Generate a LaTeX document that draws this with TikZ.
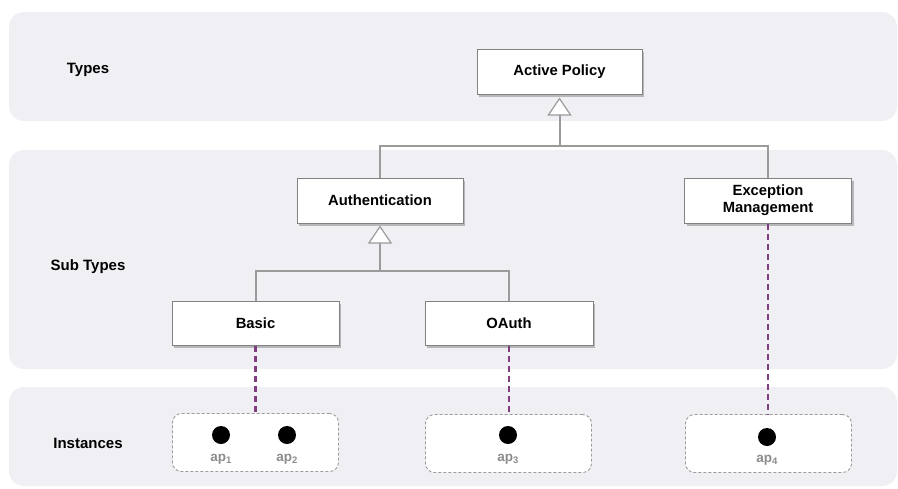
\documentclass[tikz,border=0pt]{standalone}
\usepackage{fontspec}
\setmainfont{Liberation Sans}
\usetikzlibrary{arrows.meta,shadows}
\definecolor{bandc}{RGB}{240,239,244}
\definecolor{linec}{RGB}{155,155,155}
\definecolor{boxline}{RGB}{130,130,130}
\definecolor{purp}{RGB}{128,62,128}
\definecolor{aplbl}{RGB}{140,140,140}
\newcommand{\apsub}[1]{\raisebox{-2.5pt}{\fontsize{9.5}{10}\selectfont #1}}
\tikzset{
  band/.style={fill=bandc, draw=none, rounded corners=15pt},
  bandlabel/.style={font=\fontsize{15}{18}\selectfont\bfseries, text=black},
  typebox/.style={draw=boxline, line width=1pt, fill=white, minimum height=45pt,
    font=\fontsize{14.8}{18}\selectfont\bfseries, align=center, inner sep=0pt,
    drop shadow={opacity=0.5, shadow xshift=2pt, shadow yshift=-3pt}},
  instbox/.style={draw=linec, line width=0.9pt, dash pattern=on 3pt off 2pt, fill=white,
    rounded corners=9pt, minimum width=166pt, minimum height=58pt, inner sep=0pt},
  dot/.style={circle, fill=black, minimum size=18pt, inner sep=0pt},
  aplabel/.style={text=aplbl, font=\fontsize{13.5}{15}\selectfont\bfseries, inner sep=0pt},
  conn/.style={draw=linec, line width=2pt},
  inherit/.style={conn, -{Triangle[fill=white, length=18pt, width=24pt, line width=1.2pt]}},
  instline/.style={draw=purp, line width=2.2pt, dash pattern=on 6pt off 4pt},
}
\begin{document}
\begin{tikzpicture}[x=1pt, y=-1pt]
\useasboundingbox (0,0) rectangle (898,488);
% bands
\fill[band] (9,12) rectangle (897,121);
\fill[band] (9,150) rectangle (897,369);
\fill[band] (9,387) rectangle (897,486);
\node[bandlabel] (lt) at (88,70) {Types};
\node[bandlabel] (ls) at (88,267) {Sub Types};
\node[bandlabel] (li) at (88,443) {Instances};
% instance boxes
\node[instbox] (i1) at (255.5,442.5) {};
\node[instbox] (i2) at (508.5,443.5) {};
\node[instbox] (i3) at (768.5,443.5) {};
% type boxes
\node[typebox, minimum width=165pt] (ap) at (559.5,71.5) {Active Policy};
\node[typebox, minimum width=166pt] (auth) at (380,200.5) {Authentication};
\node[typebox, minimum width=167pt] (exc) at (768,200.5) {Exception\\[-1pt]Management};
\node[typebox, minimum width=167pt, minimum height=44pt] (basic) at (255.5,323) {Basic};
\node[typebox, minimum width=168pt, minimum height=44pt] (oauth) at (509,323) {OAuth};
% junctions
\coordinate (j1) at (559.5,146);
\coordinate (j2) at (380,271);
% inheritance connectors
\draw[conn] (auth.north) |- (j1);
\draw[conn] (exc.north) |- (j1);
\draw[inherit] (j1) -- ([yshift=-3pt]ap.south);
\draw[conn] (basic.north) |- (j2);
\draw[conn] (oauth.north) |- (j2);
\draw[inherit] (j2) -- ([yshift=-2pt]auth.south);
% instance connectors
\draw[instline] (basic.south) -- (basic.south |- i1.north);
\draw[instline] (oauth.south) -- (oauth.south |- i2.north);
\draw[instline] (exc.south) -- (exc.south |- i3.north);
% instances
\node[dot] (d1) at (221,435) {};
\node[dot] (d2) at (287,435) {};
\node[dot] (d3) at (508,435) {};
\node[dot] (d4) at (767,437) {};
\node[aplabel] (a1) at (221,459) {ap\apsub{1}};
\node[aplabel] (a2) at (287,459) {ap\apsub{2}};
\node[aplabel] (a3) at (508,459) {ap\apsub{3}};
\node[aplabel] (a4) at (767,460) {ap\apsub{4}};
\end{tikzpicture}
\end{document}
